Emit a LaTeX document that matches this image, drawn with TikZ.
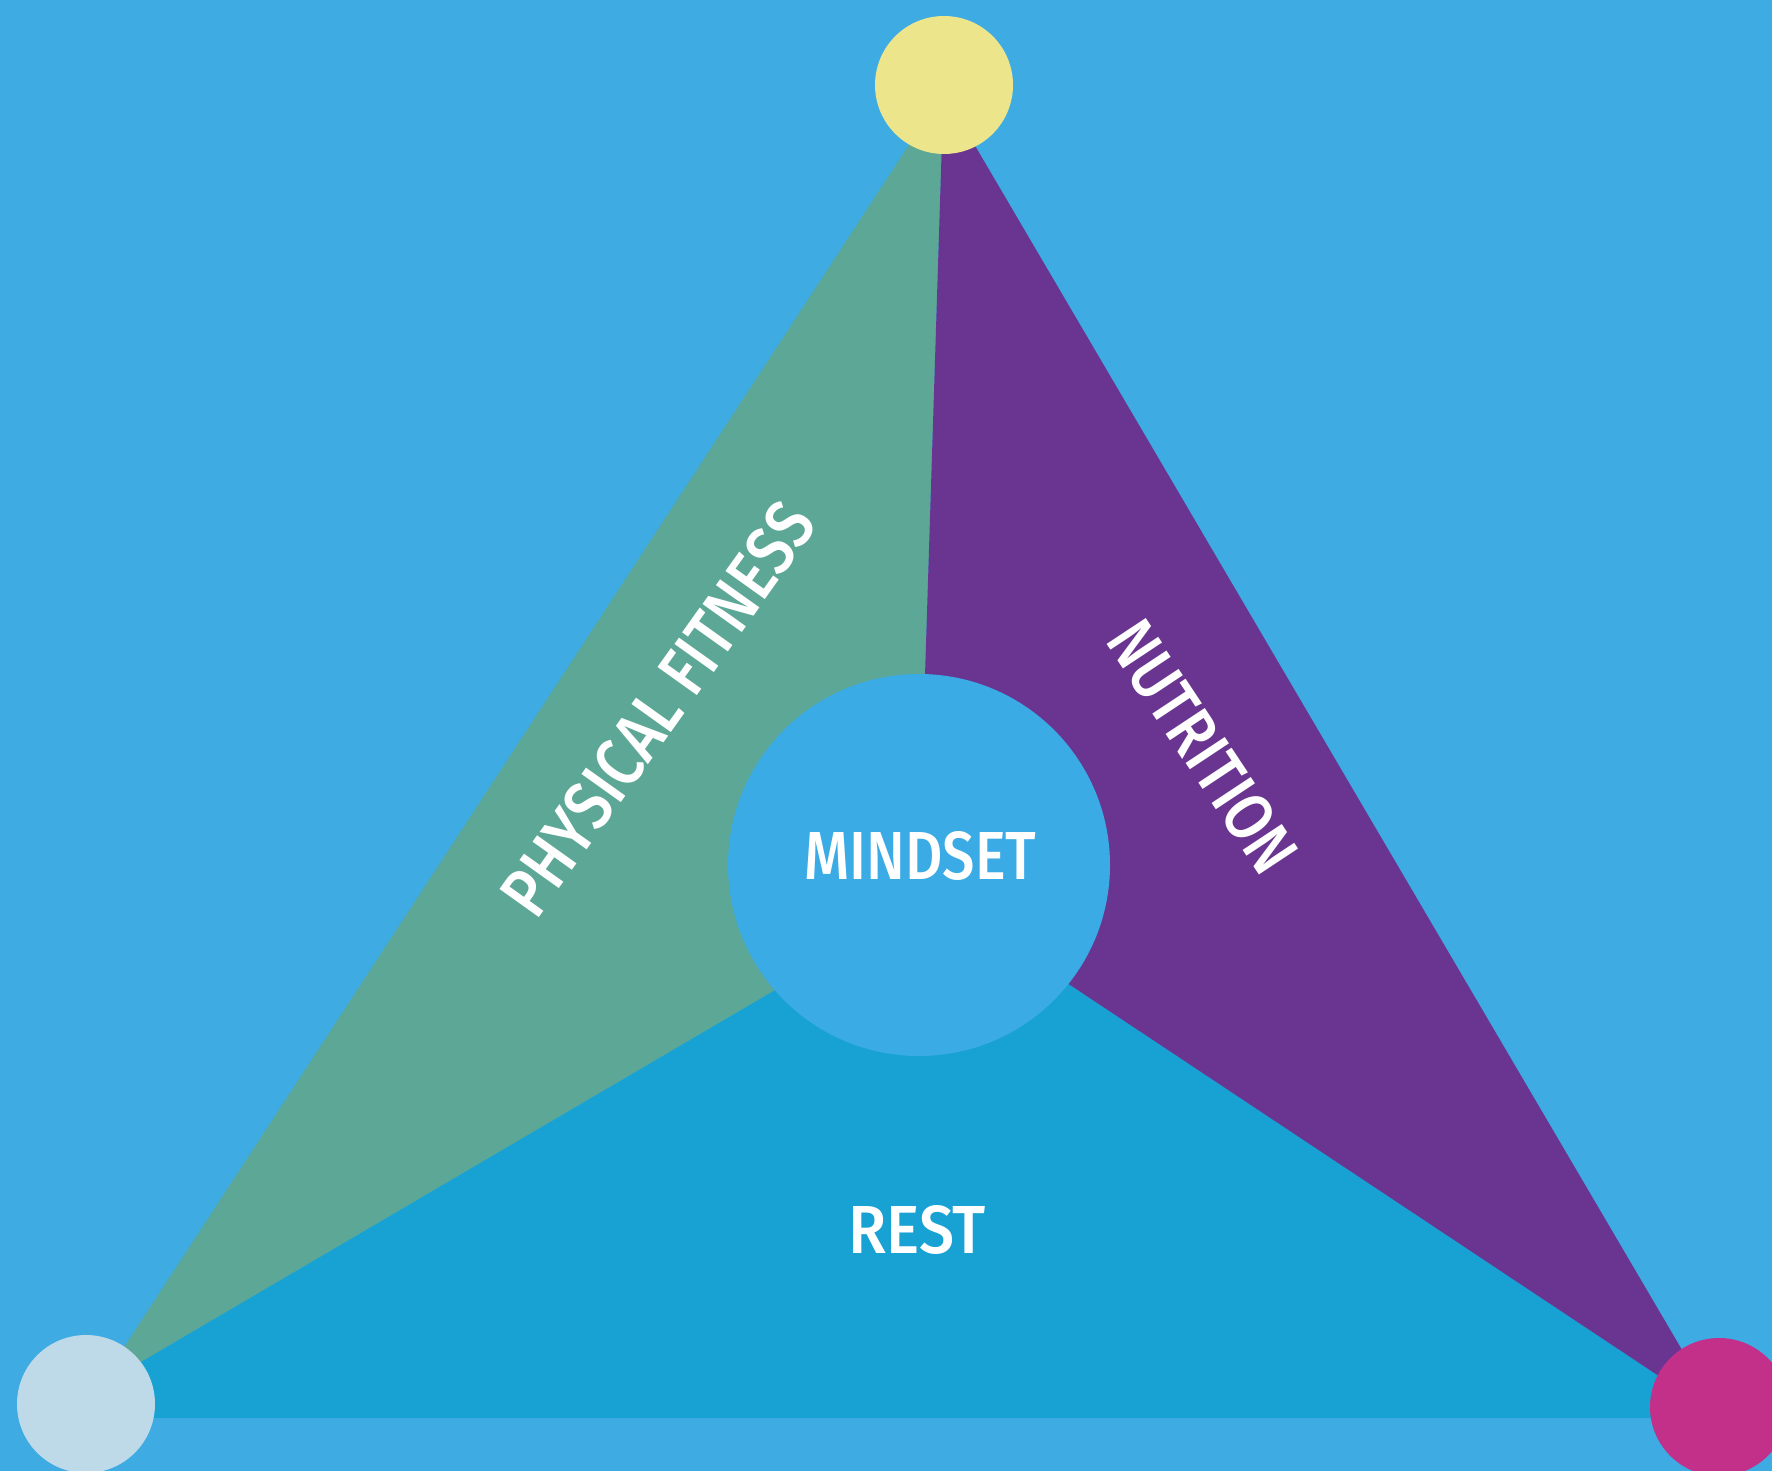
\documentclass[tikz,border=0pt]{standalone}
\usepackage{graphicx}
\usepackage{fontspec}
\setmainfont{Fira Sans}[UprightFont={* Medium}]
\definecolor{bg}{RGB}{62,171,227}
\definecolor{fit}{RGB}{92,167,149}
\definecolor{nut}{RGB}{106,53,144}
\definecolor{rst}{RGB}{24,162,212}
\definecolor{mind}{RGB}{58,171,229}
\definecolor{cyel}{RGB}{236,229,140}
\definecolor{cgry}{RGB}{190,218,232}
\definecolor{cmag}{RGB}{194,48,138}
\newcommand{\narrowtxt}[2][0.85]{\scalebox{#1}[1]{#2}}
\begin{document}
\begin{tikzpicture}[x=0.5pt,y=-0.5pt,
  lbl/.style={text=white,font=\fontsize{34}{38}\selectfont,inner sep=0pt},
  biglbl/.style={lbl,font=\fontsize{35}{39}\selectfont},
  dot/.style={circle,minimum size=69pt,inner sep=0pt},
]
\useasboundingbox (0,0) rectangle (1772,1471);
\fill[bg] (0,0) rectangle (1772,1471);
\coordinate (apex) at (943.5,92);
\coordinate (lv) at (98,1387);
\coordinate (rv) at (1722,1418);
\coordinate (mc) at (919,865);
\coordinate (gr) at (797,977);
\coordinate (pr) at (1037,963);
\fill[rst] (lv) -- (gr) -- (mc) -- (pr) -- (rv) -- (86,1418) -- (86,1395) -- cycle;
\fill[fit] (apex) -- (lv) -- (gr) -- (mc) -- cycle;
\fill[nut] (apex) -- (mc) -- (pr) -- (rv) -- cycle;
\node[dot,fill=cyel] (top) at (944,85) {};
\node[dot,fill=cgry] (left) at (86,1404) {};
\node[dot,fill=cmag] (right) at (1719,1407) {};
\node[circle,minimum size=191pt,inner sep=0pt,fill=mind] (mindset) at (mc) {};
\node[lbl] (tmind) at (920.5,855.5) {\narrowtxt{MINDSET}};
\node[lbl] (trest) at (917,1229.5) {\narrowtxt[0.92]{REST}};
\node[biglbl,rotate=54.5] (tfit) at (658,709) {\narrowtxt{PHYSICAL FITNESS}};
\node[lbl,rotate=-56.5] (tnut) at (1203,747) {\narrowtxt{NUTRITION}};
\end{tikzpicture}
\end{document}
